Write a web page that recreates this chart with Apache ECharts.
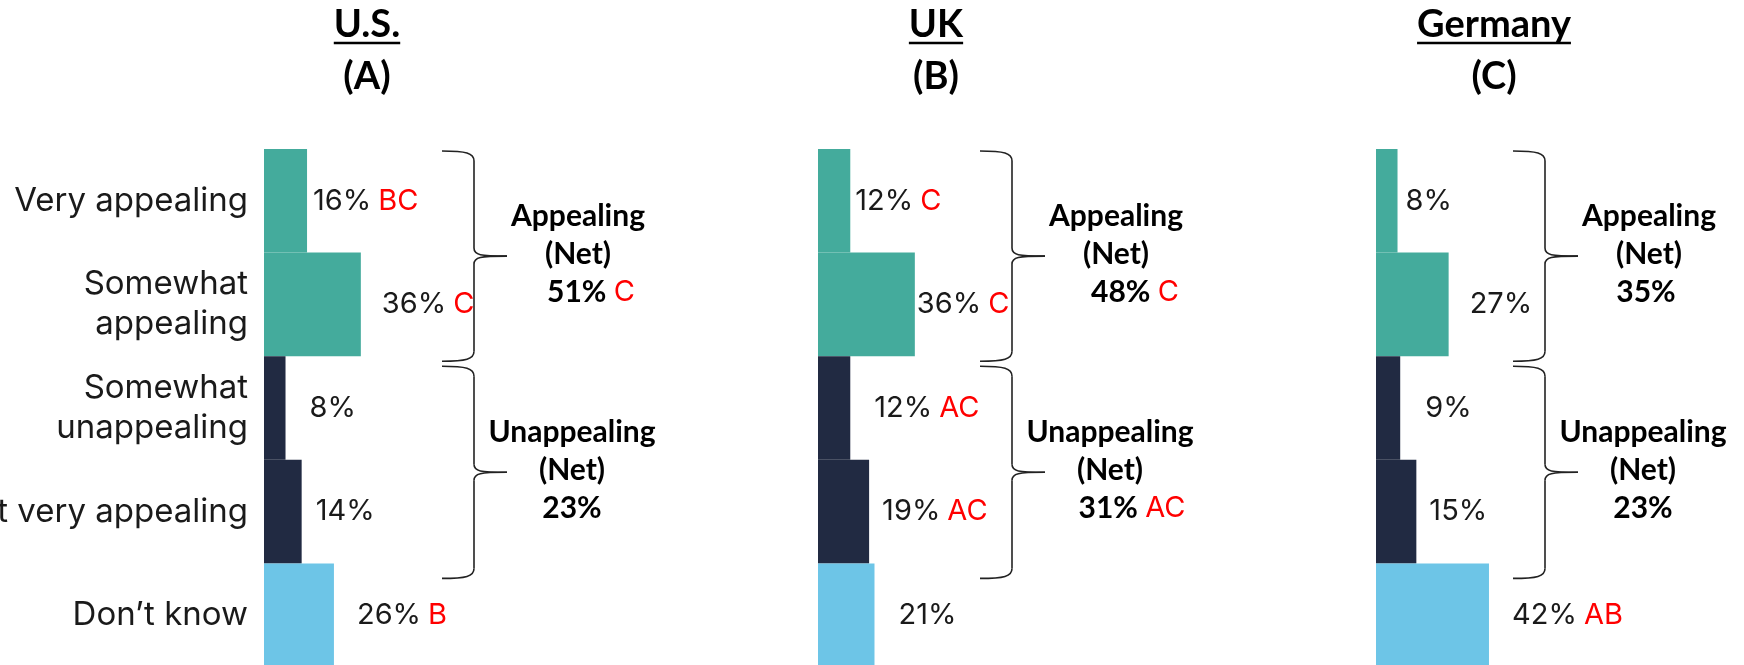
<!DOCTYPE html>
<html>
<head>
<meta charset="utf-8">
<title>Appeal by country</title>
<script src="https://cdn.jsdelivr.net/npm/echarts@6/dist/echarts.min.js"></script>
<style>
  html, body { margin: 0; padding: 0; background: #fff; }
  #main { width: 1744px; height: 665px; }
</style>
</head>
<body>
<div id="main"></div>
<script>
// data
const categories = ['Very appealing', 'Somewhat\nappealing', 'Somewhat\nunappealing', 'Not very appealing', 'Don’t know'];
const countries = ['U.S.', 'UK', 'Germany'];
const countryLetters = ['(A)', '(B)', '(C)'];
const usValues = [16, 36, 8, 14, 26];
const ukValues = [12, 36, 12, 19, 21];
const deValues = [8, 27, 9, 15, 42];
const usSig = ['BC', 'C', '', '', 'B'];
const ukSig = ['C', 'C', 'AC', 'AC', ''];
const deSig = ['', '', '', '', 'AB'];
const netAppealing = [51, 48, 35];
const netAppealingSig = ['C', 'C', ''];
const netUnappealing = [23, 31, 23];
const netUnappealingSig = ['', 'AC', ''];

// layout / style
const labelFont = 'Inter';
const boldFont = 'Lato';
const barColors = ['#44ab9c', '#44ab9c', '#212a42', '#212a42', '#6dc5e7'];
const panelLeft = [264, 818, 1376];
const gridWidth = 269;
const titleX = [367, 936, 1494];
const braceX = [474, 1012, 1545];
const labelGap = [[6, 21, 24, 14, 23], [5, 2, 24, 13, 24], [8, 21, 25, 13, 23]];
const pctShift = [[13, 0], [19, 22], [-3, 0]];

const panelValues = [usValues, ukValues, deValues];
const panelSig = [usSig, ukSig, deSig];

const chart = echarts.init(document.getElementById('main'));

const option = {
  animation: false,
  grid: panelLeft.map(l => ({
    left: l, top: 149, width: gridWidth, height: 518,
    containLabel: false, outerBoundsMode: 'none'
  })),
  xAxis: panelLeft.map((l, i) => ({ type: 'value', gridIndex: i, min: 0, max: 100, show: false })),
  yAxis: panelLeft.map((l, i) => ({
    type: 'category',
    gridIndex: i,
    inverse: true,
    data: categories,
    show: i === 0,
    axisLine: { show: false },
    axisTick: { show: false },
    splitLine: { show: false },
    axisLabel: {
      margin: 16,
      color: '#1a1a1a',
      fontFamily: labelFont,
      fontSize: 33,
      lineHeight: 40,
      align: 'right'
    }
  })),
  series: panelValues.map((vals, i) => ({
    type: 'bar',
    xAxisIndex: i,
    yAxisIndex: i,
    barCategoryGap: '0%',
    data: vals.map((v, j) => ({
      value: v,
      itemStyle: { color: barColors[j] },
      label: { distance: labelGap[i][j] }
    })),
    label: {
      show: true,
      position: 'right',
      fontFamily: labelFont,
      fontSize: 29,
      color: '#1a1a1a',
      formatter: p => {
        const sig = panelSig[i][p.dataIndex];
        return sig ? `{v|${p.value}%}{s|${sig}}` : `{v|${p.value}%}`;
      },
      rich: {
        v: { fontFamily: labelFont, fontSize: 29, color: '#1a1a1a' },
        s: { fontFamily: labelFont, fontSize: 29, color: '#ff0000', padding: [0, 0, 0, 7] }
      }
    }
  }))
};

chart.setOption(option);

// --- annotations: titles, braces, net labels
const measure = document.createElement('canvas').getContext('2d');
function textWidth(t, font) {
  measure.font = font;
  return measure.measureText(t).width;
}

function txt(text, x, y, font, extra) {
  return {
    type: 'text',
    style: Object.assign({
      text, x, y, font, fill: '#000',
      textAlign: 'center', textVerticalAlign: 'middle',
      align: 'center', verticalAlign: 'middle'
    }, extra || {})
  };
}

function brace(xv, y0, y1) {
  const x0 = xv - 32, xt = xv + 33, ym = (y0 + y1) / 2;
  const st = { stroke: '#222', lineWidth: 1.6, fill: null };
  return [
    { type: 'bezierCurve', shape: { x1: x0, y1: y0, cpx1: xv - 8, cpy1: y0, cpx2: xv, cpy2: y0 + 2, x2: xv, y2: y0 + 10 }, style: st },
    { type: 'line', shape: { x1: xv, y1: y0 + 10, x2: xv, y2: ym - 8 }, style: st },
    { type: 'bezierCurve', shape: { x1: xv, y1: ym - 8, cpx1: xv, cpy1: ym - 1, cpx2: xv + 6, cpy2: ym, x2: xt, y2: ym }, style: st },
    { type: 'bezierCurve', shape: { x1: xt, y1: ym, cpx1: xv + 6, cpy1: ym, cpx2: xv, cpy2: ym + 1, x2: xv, y2: ym + 8 }, style: st },
    { type: 'line', shape: { x1: xv, y1: ym + 8, x2: xv, y2: y1 - 10 }, style: st },
    { type: 'bezierCurve', shape: { x1: xv, y1: y1 - 10, cpx1: xv, cpy1: y1 - 2, cpx2: xv - 8, cpy2: y1, x2: x0, y2: y1 }, style: st }
  ];
}

function netLabel(head, value, sig, cx, ym, shift) {
  const bold = `bold 30px ${boldFont}`;
  const pct = sig ? `{p|${value}%} {s|${sig}}` : `{p|${value}%}`;
  return [
    txt(head, cx, ym - 40, bold),
    txt('(Net)', cx, ym - 2, bold),
    txt(pct, cx + shift, ym + 36, bold, {
      rich: {
        p: { font: bold, fill: '#000' },
        s: { fontFamily: labelFont, fontSize: 29, fill: '#ff0000' }
      }
    })
  ];
}

const graphics = [];
const titleFont = `bold 38px ${boldFont}`;
countries.forEach((name, i) => {
  graphics.push(txt(name, titleX[i], 25, titleFont));
  graphics.push(txt(countryLetters[i], titleX[i], 77, titleFont));
  const w = textWidth(name, titleFont);
  graphics.push({
    type: 'line',
    shape: { x1: titleX[i] - w / 2, y1: 43, x2: titleX[i] + w / 2, y2: 43 },
    style: { stroke: '#000', lineWidth: 2.5 }
  });

  // band edges from the category axis
  const c = categories.map(cat => chart.convertToPixel({ yAxisIndex: i }, cat));
  const band = c[1] - c[0];
  const top = j => c[j] - band / 2;
  const bottom = j => c[j] + band / 2;

  const a0 = top(0) + 2, a1 = bottom(1) + 5;
  const u0 = top(2) + 10, u1 = bottom(3) + 15;
  graphics.push(...brace(braceX[i], a0, a1));
  graphics.push(...brace(braceX[i], u0, u1));

  const xt = braceX[i] + 33;
  graphics.push(...netLabel('Appealing', netAppealing[i], netAppealingSig[i], xt + 71, (a0 + a1) / 2, pctShift[i][0]));
  graphics.push(...netLabel('Unappealing', netUnappealing[i], netUnappealingSig[i], xt + 65, (u0 + u1) / 2, pctShift[i][1]));
});

chart.setOption({ graphic: graphics });
</script>
</body>
</html>
